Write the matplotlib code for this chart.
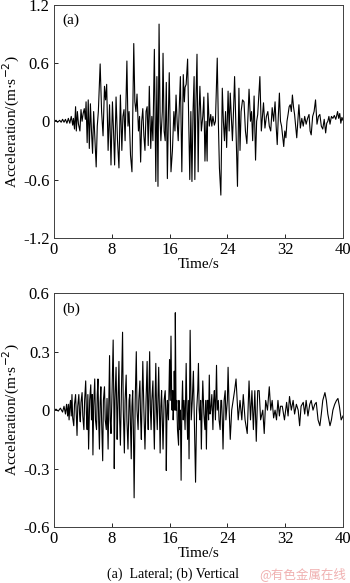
import numpy as np
import matplotlib
matplotlib.use('Agg')
import matplotlib.pyplot as plt

plt.rcParams['font.family'] = ['Liberation Serif', 'DejaVu Serif']
plt.rcParams['axes.unicode_minus'] = False

# (a) lateral acceleration
t_a = [0.0, 0.3, 0.5, 0.8, 1.0, 1.2, 1.4, 1.6, 1.8, 2.0, 2.2, 2.4, 2.6, 2.7, 2.85,
       3.0, 3.1, 3.25, 3.4, 3.6, 3.75, 3.9, 4.05, 4.2, 4.35, 4.45, 4.6, 4.75, 4.9,
       5.05, 5.2, 5.35, 5.5, 5.65, 5.85, 6.0, 6.15, 6.4, 6.6, 6.8, 7.0, 7.15, 7.3,
       7.5, 7.7, 7.9, 8.1, 8.25, 8.4, 8.6, 8.8, 9.0, 9.2, 9.4, 9.55, 9.7, 9.85,
       10.1, 10.25, 10.4, 10.6, 10.8, 11.05, 11.2, 11.35, 11.5, 11.7, 11.85, 12.0,
       12.15, 12.3, 12.45, 12.6, 12.75, 12.9, 13.05, 13.2, 13.4, 13.55, 13.7, 13.9,
       14.1, 14.25, 14.4, 14.55, 14.7, 14.8, 15.0, 15.1, 15.25, 15.4, 15.55, 15.7,
       15.85, 15.96, 16.1, 16.2, 16.4, 16.6, 16.75, 16.9, 17.05, 17.2, 17.35, 17.5,
       17.7, 17.9, 18.05, 18.15, 18.3, 18.5, 18.65, 18.8, 18.95, 19.1, 19.25, 19.4,
       19.5, 19.65, 19.8, 19.96, 20.05, 20.2, 20.4, 20.6, 20.75, 20.9, 21.05, 21.2,
       21.3, 21.5, 21.7, 21.85, 22.0, 22.2, 22.35, 22.6, 22.75, 22.9, 23.1, 23.3,
       23.45, 23.6, 23.75, 23.9, 24.1, 24.25, 24.4, 24.55, 24.7, 24.85, 25.0, 25.2,
       25.4, 25.6, 25.75, 25.9, 26.1, 26.3, 26.5, 26.7, 27.0, 27.2, 27.35, 27.5,
       27.7, 27.9, 28.05, 28.2, 28.5, 28.7, 28.85, 29.0, 29.2, 29.4, 29.6, 29.8,
       30.0, 30.2, 30.4, 30.6, 30.75, 30.9, 31.05, 31.2, 31.35, 31.5, 31.65, 31.8,
       31.95, 32.1, 32.25, 32.4, 32.55, 32.7, 32.85, 33.0, 33.15, 33.3, 33.45, 33.6,
       33.75, 33.9, 34.1, 34.3, 34.5, 34.7, 34.9, 35.1, 35.3, 35.45, 35.6, 35.8,
       36.0, 36.2, 36.4, 36.6, 36.8, 37.0, 37.2, 37.4, 37.6, 37.75, 37.9, 38.05,
       38.2, 38.4, 38.6, 38.8, 39.0, 39.1, 39.25, 39.4, 39.55, 39.7, 39.85, 40.0]
acc_a = [0.0, 0.01, -0.01, 0.01, -0.01, 0.02, -0.01, 0.02, -0.02, 0.03, -0.02, 0.05, -0.04, 0.03, -0.08,
         0.15, -0.1, 0.1, -0.03, -0.1, 0.12, 0.0, 0.08, 0.13, 0.02, 0.2, -0.22, 0.22, -0.28,
         0.18, -0.1, -0.33, 0.1, -0.15, -0.47, -0.05, 0.1, 0.59, 0.1, -0.15, 0.36, 0.22, 0.38,
         -0.3, 0.17, -0.45, 0.2, -0.1, -0.45, 0.25, -0.2, -0.48, 0.27, -0.3, 0.05, 0.12, -0.2,
         0.62, -0.05, 0.1, -0.35, -0.52, 0.8, 0.2, 0.1, 0.28, -0.1, 0.05, -0.42,
         0.0, 0.13, -0.15, -0.3, 0.1, 0.15, -0.25, 0.36, -0.28, 0.05, -0.2, 0.74,
         -0.62, 0.46, -0.67, 1.0, 0.0, -0.2, 0.1, 0.7, -0.1, -0.2, 0.4, -0.59,
         0.1, 0.5, -0.1, -0.52, -0.3, 0.1, -0.1, 0.27, 0.0, -0.2, 0.15, 0.46,
         -0.52, 0.48, 0.2, 0.35, 0.38, 0.64, 0.0, -0.6, 0.1, -0.62, 0.1, 0.46,
         -0.6, 0.2, 0.69, -0.52, 0.0, 0.36, -0.1, 0.05, 0.25, -0.41, 0.0, -0.41,
         0.29, -0.05, 0.07, -0.05, 0.05, -0.04, 0.0, 0.65, 0.0, -0.48, -0.76, 0.34,
         0.0, -0.2, 0.1, -0.27, 0.31, -0.1, 0.29, 0.05, -0.2, 0.1, 0.46, -0.1,
         -0.67, 0.34, -0.3, 0.1, 0.22, 0.2, -0.1, -0.23, 0.33, 0.0, 0.1, -0.2,
         0.26, -0.4, 0.0, 0.07, 0.46, -0.1, 0.05, 0.19, -0.07, 0.05, 0.1, -0.05,
         -0.1, 0.14, 0.0, 0.2, -0.05, -0.24, 0.05, 0.29, 0.0, -0.05, -0.15, -0.26,
         -0.1, -0.17, 0.0, 0.07, 0.15, 0.17, 0.1, 0.27, 0.15, 0.07, -0.05, -0.17,
         0.0, 0.17, -0.07, 0.03, -0.05, 0.05, -0.03, 0.03, 0.07, -0.1, -0.14, 0.05,
         0.1, 0.22, -0.03, 0.05, 0.07, -0.05, -0.08, 0.02, -0.12, -0.02, 0.0, 0.05,
         -0.03, 0.05, 0.03, 0.06, 0.02, 0.05, 0.1, 0.03, 0.08, -0.02, 0.04, 0.01]

# (b) vertical acceleration
t_b = [0.0, 0.3, 0.6, 0.9, 1.2, 1.4, 1.6, 1.75,
       1.9, 2.0, 2.1, 2.2, 2.3, 2.4, 2.5, 2.6, 2.75, 2.85,
       3.0, 3.1, 3.2, 3.3, 3.45, 3.55, 3.65, 3.75, 3.9, 4.0,
       4.15, 4.25, 4.4, 4.5, 4.6, 4.7, 4.8, 4.95, 5.1, 5.2,
       5.3, 5.4, 5.5, 5.65, 5.75, 5.9, 6.0, 6.1, 6.2, 6.3,
       6.4, 6.5, 6.6, 6.75, 6.85, 7.0, 7.1, 7.25, 7.35, 7.5,
       7.6, 7.7, 7.8, 7.9, 8.05, 8.2, 8.3, 8.35, 8.45, 8.6,
       8.7, 8.75, 8.9, 9.0, 9.1, 9.2, 9.35, 9.5, 9.6, 9.75,
       9.85, 10.0, 10.1, 10.25, 10.4, 10.5, 10.6, 10.7, 10.8, 10.9,
       11.0, 11.1, 11.25, 11.4, 11.5, 11.65, 11.75, 11.9, 12.0, 12.1,
       12.2, 12.3, 12.45, 12.6, 12.75, 12.9, 13.0, 13.05, 13.15, 13.25,
       13.35, 13.45, 13.55, 13.7, 13.8, 13.9, 14.0, 14.1, 14.2, 14.3,
       14.4, 14.5, 14.6, 14.7, 14.8, 14.9, 15.0, 15.1, 15.25, 15.4,
       15.5, 15.55, 15.65, 15.7, 15.85, 16.0, 16.1, 16.2, 16.3, 16.35,
       16.45, 16.5, 16.6, 16.65, 16.75, 16.8, 16.9, 17.0, 17.1, 17.25,
       17.3, 17.4, 17.5, 17.6, 17.7, 17.8, 17.9, 18.0, 18.15, 18.3,
       18.4, 18.5, 18.6, 18.7, 18.85, 19.0, 19.15, 19.3, 19.4, 19.45,
       19.6, 19.75, 19.9, 20.0, 20.1, 20.2, 20.3, 20.4, 20.5, 20.6,
       20.75, 20.9, 21.0, 21.1, 21.2, 21.3, 21.4, 21.5, 21.6, 21.7,
       21.85, 22.0, 22.1, 22.2, 22.35, 22.5, 22.6, 22.75, 22.85, 23.0,
       23.1, 23.2, 23.3, 23.4, 23.55, 23.7, 23.8, 23.9, 24.0, 24.1,
       24.25, 24.4, 24.6, 24.8, 25.0, 25.2, 25.5, 25.75, 26.0, 26.2,
       26.45, 26.75, 27.0, 27.2, 27.4, 27.6, 27.8, 28.0, 28.2, 28.4,
       28.6, 28.9, 29.1, 29.3, 29.55, 29.8, 30.0, 30.2, 30.4, 30.6,
       30.8, 31.0, 31.2, 31.35, 31.6, 31.9, 32.2, 32.4, 32.6, 32.85,
       33.1, 33.3, 33.55, 33.8, 34.0, 34.2, 34.5, 34.7, 34.9, 35.15,
       35.4, 35.6, 35.85, 36.1, 36.3, 36.55, 36.8, 37.0, 37.2, 37.5,
       37.7, 37.9, 38.2, 38.4, 38.6, 38.85, 39.1, 39.3, 39.5, 39.75,
       40.0]
acc_b = [0.0, 0.005, -0.005, 0.01, -0.01, 0.02, -0.02, 0.03,
         -0.03, 0.03, -0.05, 0.02, 0.05, -0.03, 0.08, -0.04, -0.08, 0.03,
         0.08, -0.02, -0.13, 0.02, 0.08, -0.02, -0.06, 0.04, 0.09, -0.03,
         -0.1, 0.05, 0.15, -0.02, -0.1, 0.08, -0.2, 0.05, 0.13, -0.05,
         0.08, -0.23, 0.02, 0.16, -0.05, -0.1, 0.08, 0.16, -0.06, -0.2,
         0.04, 0.12, -0.05, -0.26, 0.05, 0.12, -0.05, -0.1, 0.06, -0.2,
         0.05, 0.28, -0.05, -0.12, 0.1, 0.36, 0.0, -0.3, 0.05, 0.22,
         0.0, -0.15, 0.1, 0.25, -0.05, -0.18, 0.1, 0.4, 0.0, -0.22,
         0.05, 0.18, -0.05, -0.2, 0.05, 0.08, -0.08, -0.25, 0.02, 0.1,
         -0.1, -0.45, 0.05, 0.3, 0.0, -0.1, 0.05, 0.15, -0.05, -0.15,
         0.05, 0.25, 0.0, -0.2, 0.05, 0.25, -0.05, -0.1, 0.1, 0.3,
         0.0, -0.1, 0.05, 0.15, -0.05, -0.2, 0.05, 0.24, 0.0, -0.1,
         0.05, 0.22, 0.0, -0.22, 0.02, 0.1, -0.05, -0.2, 0.05, 0.1,
         -0.05, -0.31, 0.0, 0.05, -0.05, 0.26, 0.05, 0.38, 0.05, 0.0,
         0.1, -0.05, 0.05, 0.2, 0.0, 0.5, 0.0, 0.05, -0.1, -0.18,
         0.05, -0.1, 0.0, -0.36, 0.0, 0.15, -0.05, 0.05, -0.1, 0.24,
         0.0, -0.15, 0.05, -0.25, 0.41, -0.05, 0.05, 0.2, 0.0, -0.1,
         -0.37, 0.0, 0.1, 0.24, 0.0, -0.05, 0.05, -0.2, 0.0, 0.15,
         -0.02, -0.1, 0.05, -0.2, 0.05, 0.05, -0.05, 0.18, -0.02, 0.0,
         0.08, -0.1, 0.05, 0.1, -0.05, 0.23, 0.0, 0.05, -0.05, -0.1,
         0.05, 0.05, -0.05, -0.2, 0.05, 0.1, -0.05, 0.0, 0.05, 0.22,
         0.0, -0.15, 0.0, 0.05, 0.1, 0.16, -0.05, 0.05, -0.05, 0.08,
         -0.05, -0.12, 0.15, -0.05, 0.1, -0.1, 0.1, -0.16, 0.1, 0.1,
         -0.05, 0.0, -0.12, 0.05, 0.0, 0.12, 0.0, 0.05, -0.04, 0.0,
         -0.05, 0.05, -0.03, 0.02, 0.02, -0.05, 0.04, -0.03, 0.07, 0.0,
         0.05, -0.02, 0.03, 0.0, -0.08, 0.02, 0.04, -0.02, 0.05, -0.03,
         0.03, 0.05, 0.0, 0.03, 0.04, -0.05, -0.08, -0.02, 0.05, 0.09,
         0.05, -0.02, -0.08, -0.05, 0.0, 0.03, 0.05, 0.06, 0.02, -0.05,
         -0.03]

x_ticks = [0, 8, 16, 24, 32, 40]
ya_ticks = [-1.2, -0.6, 0, 0.6, 1.2]
ya_labels = ['-1.2', '-0.6', '0', '0.6', '1.2']
yb_ticks = [-0.6, -0.3, 0, 0.3, 0.6]
yb_labels = ['-0.6', '-0.3', '0', '0.3', '0.6']

fig = plt.figure(figsize=(3.5, 5.83), dpi=100)
ax1 = fig.add_axes([0.154, 0.592, 0.826, 0.400])
ax2 = fig.add_axes([0.154, 0.096, 0.826, 0.401])

panels = [(ax1, t_a, acc_a, ya_ticks, ya_labels, '(a)'),
          (ax2, t_b, acc_b, yb_ticks, yb_labels, '(b)')]
for ax, t, acc, yt, yl, tag in panels:
    ax.plot(t, acc, color='black', linewidth=0.8)
    ax.set_xlim(0, 40)
    ax.set_ylim(yt[0], yt[-1])
    ax.set_xticks(x_ticks)
    ax.set_xticklabels([str(v) for v in x_ticks])
    ax.set_yticks(yt)
    ax.set_yticklabels(yl)
    ax.tick_params(direction='in', length=3, width=0.6, labelsize=12, pad=3)
    for s in ax.spines.values():
        s.set_linewidth(0.7)
        s.set_color('#404040')
    ax.set_xlabel('Time/s', fontsize=11, labelpad=0)
    ax.set_ylabel('Acceleration/(m$\\cdot$s$^{-2}$)', fontsize=11, labelpad=1)
    ax.text(0.03, 0.96, tag, transform=ax.transAxes, fontsize=11, va='top', ha='left')

fig.text(0.494, 0.004, '(a)  Lateral; (b) Vertical', fontsize=10, ha='center', va='bottom')
fig.text(0.988, 0.004, '@有色金属在线', fontsize=9, color='#f0b0b0', ha='right', va='bottom',
         family=['Noto Sans CJK SC', 'DejaVu Sans'])

fig.savefig('out.png', dpi=100)
